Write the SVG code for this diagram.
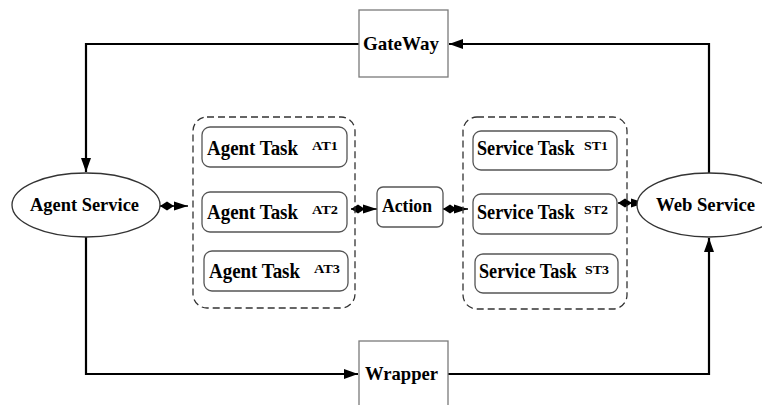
<svg xmlns="http://www.w3.org/2000/svg" width="762" height="405" viewBox="0 0 762 405">
<defs>
<marker id="arr" viewBox="0 0 14 10" refX="14" refY="5" markerWidth="14" markerHeight="10" markerUnits="userSpaceOnUse" orient="auto"><path d="M0,0 L14,5 L0,10 z" fill="#000"/></marker>
<marker id="dia" viewBox="0 0 14 10" refX="0" refY="5" markerWidth="14" markerHeight="10" markerUnits="userSpaceOnUse" orient="auto"><path d="M0,5 L7,0.5 L14,5 L7,9.5 z" fill="#000"/></marker>
<marker id="arrs" viewBox="0 0 14 10" refX="14" refY="5" markerWidth="14" markerHeight="10" markerUnits="userSpaceOnUse" orient="auto"><path d="M0,0.5 L14,5 L0,9.5 z" fill="#000"/></marker>
</defs>
<style>
text{font-family:"Liberation Serif","Times New Roman",serif;font-weight:bold;fill:#000}
.lbl{font-size:19px}
.task-lbl{font-size:20.5px}
.st-lbl{font-size:18.2px}
.sup{font-size:12px}
.box{fill:#fff;stroke:#7a7a7a;stroke-width:1.3}
.task{fill:#fff;stroke:#555;stroke-width:1.3}
.grp{fill:none;stroke:#333;stroke-width:1.3;stroke-dasharray:7,4}
.ell{fill:#fff;stroke:#333;stroke-width:1.3}
.flow{fill:none;stroke:#000;stroke-width:2.2}
.rel{fill:none;stroke:#000;stroke-width:1.5}
</style>
<rect width="762" height="405" fill="#fff"/>
<g id="connectors">
<path class="flow" d="M359,44 H86 V172" marker-end="url(#arr)"/>
<path class="flow" d="M709,173 V44 H449" marker-end="url(#arr)"/>
<path class="flow" d="M86,237 V374 H358" marker-end="url(#arr)"/>
<path class="flow" d="M448,374 H709 V238" marker-end="url(#arr)"/>
<line class="rel" x1="160" y1="206" x2="188" y2="206" marker-start="url(#dia)" marker-end="url(#arrs)"/>
<line class="rel" x1="351" y1="209" x2="377" y2="209" marker-start="url(#dia)" marker-end="url(#arrs)"/>
<line class="rel" x1="443" y1="209" x2="468" y2="209" marker-start="url(#dia)" marker-end="url(#arrs)"/>
<line class="rel" x1="618" y1="203" x2="645" y2="203" marker-start="url(#dia)" marker-end="url(#arrs)"/>
</g>
<g id="gateway"><rect class="box" x="359" y="10" width="89" height="67"/><text class="lbl" x="401" y="50" text-anchor="middle" textLength="76" lengthAdjust="spacingAndGlyphs">GateWay</text></g>
<g id="wrapper"><rect class="box" x="359" y="341" width="89" height="80"/><text class="lbl" x="401.5" y="380" text-anchor="middle" textLength="73" lengthAdjust="spacingAndGlyphs">Wrapper</text></g>
<g id="agent-service"><ellipse class="ell" cx="86" cy="205" rx="74" ry="32"/><text class="lbl" x="30" y="211" textLength="109" lengthAdjust="spacingAndGlyphs">Agent Service</text></g>
<g id="web-service"><ellipse class="ell" cx="709" cy="205" rx="72" ry="32"/><text class="lbl" x="656" y="211" textLength="99" lengthAdjust="spacingAndGlyphs">Web Service</text></g>
<g id="agent-group"><rect class="grp" x="193" y="117" width="162" height="191" rx="14"/></g>
<g id="at1"><rect class="task" x="202" y="127" width="145" height="40" rx="8"/><text class="task-lbl" x="207" y="155" textLength="91" lengthAdjust="spacingAndGlyphs">Agent Task</text><text class="sup" x="312" y="150" textLength="26" lengthAdjust="spacingAndGlyphs">AT1</text></g>
<g id="at2"><rect class="task" x="202" y="192" width="145" height="40" rx="8"/><text class="task-lbl" x="207" y="219" textLength="91" lengthAdjust="spacingAndGlyphs">Agent Task</text><text class="sup" x="312" y="214" textLength="26" lengthAdjust="spacingAndGlyphs">AT2</text></g>
<g id="at3"><rect class="task" x="204" y="251" width="144" height="40" rx="8"/><text class="task-lbl" x="209" y="278" textLength="91" lengthAdjust="spacingAndGlyphs">Agent Task</text><text class="sup" x="314" y="273" textLength="26" lengthAdjust="spacingAndGlyphs">AT3</text></g>
<g id="action"><rect class="task" x="377" y="187" width="66" height="40" rx="6"/><text class="lbl" x="382" y="212" textLength="50" lengthAdjust="spacingAndGlyphs">Action</text></g>
<g id="service-group"><rect class="grp" x="463" y="117" width="164" height="192" rx="14"/></g>
<g id="st1"><rect class="task" x="473" y="131" width="144" height="39" rx="8"/><text class="st-lbl" transform="translate(477,155) scale(1,1.1)">Service Task</text><text class="sup" x="584" y="150" textLength="24" lengthAdjust="spacingAndGlyphs">ST1</text></g>
<g id="st2"><rect class="task" x="473" y="194" width="144" height="40" rx="8"/><text class="st-lbl" transform="translate(477,219) scale(1,1.1)">Service Task</text><text class="sup" x="584" y="214" textLength="24" lengthAdjust="spacingAndGlyphs">ST2</text></g>
<g id="st3"><rect class="task" x="475" y="254" width="143" height="39" rx="8"/><text class="st-lbl" transform="translate(479,278) scale(1,1.1)">Service Task</text><text class="sup" x="585" y="274" textLength="24" lengthAdjust="spacingAndGlyphs">ST3</text></g>
</svg>
